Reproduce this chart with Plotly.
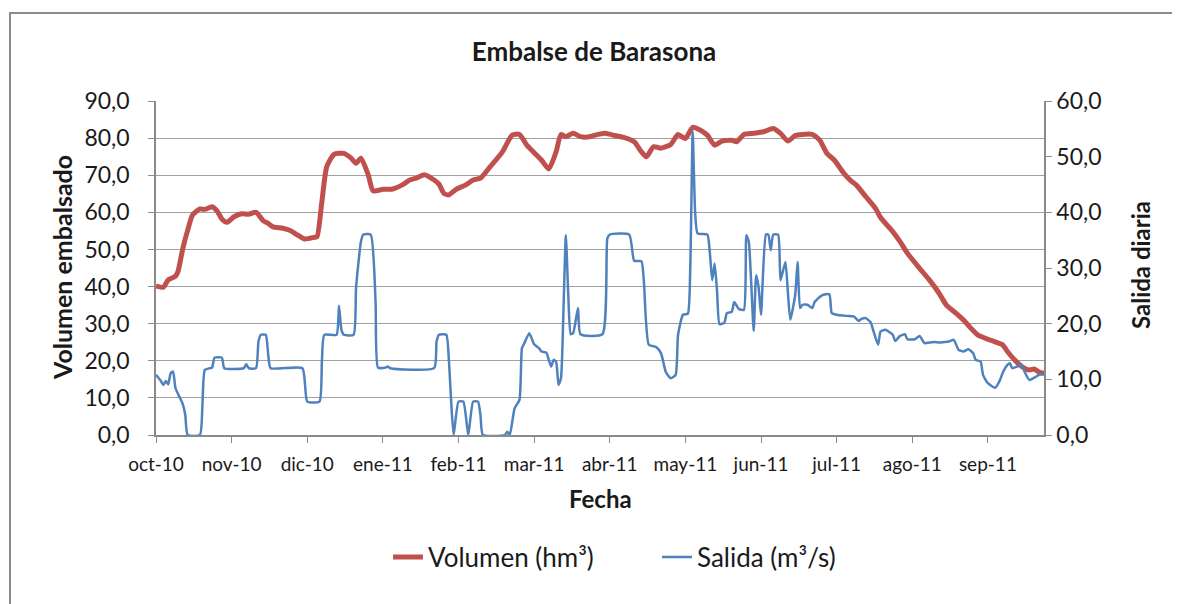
import plotly.graph_objects as go

# ---------------- data (daily category index from 1-oct-2010) ----------------
meses = ["oct-10", "nov-10", "dic-10", "ene-11", "feb-11", "mar-11",
         "abr-11", "may-11", "jun-11", "jul-11", "ago-11", "sep-11"]

dia_vol = [0, 3, 5, 8, 9, 11, 13, 15, 18, 20, 23, 25, 27, 29, 32, 35, 38, 41, 44, 46,
           48, 52, 55, 58, 61, 65, 66, 68, 70, 73, 77, 80, 82, 84, 87, 89, 93, 97, 101,
           104, 107, 110, 114, 116, 118, 120, 123, 127, 130, 133, 137, 142, 146, 149, 152,
           158, 161, 164, 166, 168, 171, 174, 177, 180, 184, 188, 192, 196, 199, 201, 204,
           207, 211, 214, 217, 220, 223, 226, 229, 232, 236, 238, 241, 245, 249, 253, 256,
           259, 262, 265, 269, 272, 275, 278, 282, 285, 287, 291, 295, 297, 302, 305, 308,
           313, 317, 321, 324, 328, 331, 334, 337, 341, 344, 347, 349, 352, 355, 358, 360,
           362, 364]
volumen = [40.2, 39.8, 41.8, 42.8, 44.0, 50.3, 55.2, 59.3, 60.9, 60.8, 61.5, 60.4, 58.2,
           57.3, 58.8, 59.6, 59.5, 60.0, 57.7, 57.0, 56.1, 55.7, 55.1, 53.9, 52.8, 53.3,
           53.4, 62.9, 72.3, 75.6, 75.9, 74.6, 73.2, 74.6, 70.1, 65.8, 66.2, 66.3, 67.4,
           68.7, 69.3, 70.1, 68.7, 67.6, 65.1, 64.7, 66.2, 67.4, 68.7, 69.2, 72.3, 76.3,
           80.8, 81.0, 78.1, 74.1, 71.7, 76.3, 81.0, 80.4, 81.3, 80.4, 80.3, 80.8, 81.3,
           80.7, 80.1, 79.0, 76.3, 75.0, 77.7, 77.3, 78.3, 81.0, 79.9, 82.9, 82.2, 80.8,
           78.1, 79.2, 79.4, 79.0, 81.0, 81.3, 81.7, 82.6, 81.3, 79.2, 80.7, 81.0, 81.0,
           79.5, 75.9, 74.1, 70.5, 68.4, 67.4, 64.2, 61.0, 58.6, 54.8, 52.1, 49.0, 44.9,
           41.8, 38.2, 35.0, 32.8, 31.0, 28.8, 26.9, 25.8, 25.1, 24.3, 22.5, 20.2, 18.4,
           17.5, 17.8, 16.9, 16.6]

dia_sal = [0, 2, 3, 4, 5, 6, 7, 8, 10, 11, 12, 13, 18, 19, 20, 22, 23, 24, 27, 28, 36, 37,
           38, 41, 42, 43, 45, 46, 47, 60, 62, 67, 68, 69, 74, 75, 76, 77, 81, 82, 84, 85,
           88, 90, 91, 94, 95, 96, 114, 115, 116, 119, 120, 121, 122, 124, 126, 128, 130,
           132, 133, 134, 143, 144, 145, 147, 149, 150, 151, 153, 155, 157, 158, 160, 161,
           162, 163, 164, 165, 166, 167, 168, 169, 170, 171, 173, 174, 183, 185, 186, 194,
           196, 199, 200, 202, 205, 207, 209, 211, 213, 214, 216, 218, 219, 220, 221, 222,
           226, 227, 228, 229, 230, 231, 233, 234, 236, 237, 239, 241, 242, 243, 245, 246,
           247, 248, 250, 251, 252, 253, 255, 256, 258, 259, 260, 262, 263, 264, 265, 267,
           269, 270, 273, 276, 277, 279, 283, 286, 288, 289, 291, 293, 294, 296, 297, 299,
           302, 303, 305, 307, 308, 311, 313, 315, 317, 319, 321, 323, 325, 327, 329, 331,
           333, 335, 336, 338, 339, 341, 344, 346, 347, 349, 350, 351, 353, 355, 356, 358,
           360, 362, 364]
salida = [10.8, 9.7, 9.0, 9.7, 9.1, 11.1, 11.4, 8.4, 6.5, 5.5, 3.6, 0.0, 0.0, 5.0, 11.7,
          12.0, 12.1, 13.9, 13.9, 12.0, 12.0, 12.7, 12.0, 12.0, 16.8, 18.0, 18.0, 14.4,
          12.0, 12.0, 6.0, 6.0, 13.2, 18.0, 18.0, 23.2, 18.9, 18.0, 18.0, 26.4, 34.7,
          36.0, 36.0, 24.0, 12.1, 12.1, 12.3, 12.0, 12.0, 16.8, 18.0, 18.0, 13.8, 6.0,
          0.0, 6.0, 6.0, 0.0, 6.0, 6.0, 3.6, 0.0, 0.0, 0.6, 0.0, 4.8, 6.3, 15.6, 16.5,
          18.3, 16.3, 15.6, 15.0, 14.8, 13.5, 12.3, 13.5, 13.2, 9.0, 10.2, 22.1, 35.9,
          25.1, 18.1, 18.3, 22.8, 18.1, 18.1, 35.3, 36.0, 36.0, 31.3, 31.2, 27.5, 16.2,
          15.8, 14.7, 11.3, 10.2, 10.8, 18.0, 21.6, 21.8, 30.0, 54.5, 40.0, 36.2, 36.0,
          32.9, 27.8, 30.8, 25.7, 19.9, 20.2, 21.9, 22.1, 23.9, 22.6, 22.5, 35.9, 34.7,
          18.7, 28.7, 26.6, 21.6, 36.0, 36.0, 33.2, 36.0, 36.0, 27.8, 31.1, 25.7, 20.7,
          25.1, 31.1, 22.8, 23.4, 23.4, 22.8, 23.9, 25.1, 25.3, 21.9, 21.6, 21.4, 21.3,
          20.5, 20.8, 21.0, 20.2, 18.8, 16.2, 18.6, 18.9, 18.0, 16.9, 17.8, 18.1, 17.2,
          17.2, 17.8, 16.5, 16.6, 16.7, 16.6, 16.7, 16.8, 17.1, 15.3, 15.0, 15.4, 14.7,
          13.5, 13.2, 10.8, 9.3, 8.5, 9.9, 11.1, 12.6, 12.9, 12.0, 12.3, 12.6, 11.4, 9.9,
          10.3, 10.8, 10.9]

# ---------------- figure ----------------
FONT = "Lato, 'Open Sans', sans-serif"
GRID = "#a0a0a0"
AXIS = "#8a8a8a"
OFF = 8                      # page body margin of the html page
W, H = 1180 - OFF, 604 - OFF
# plot area in screen pixels: x 156..1044, y 101..435
PL, PR, PT, PB = 156, 1044, 101, 435
L, T = PL - OFF, PT - OFF
R, B = W - (PR - OFF), H - (PB - OFF)
pw, ph = PR - PL, PB - PT


def px_x(x):
    return (x - PL) / pw


def px_y(y):
    return (PB - y) / ph


fig = go.Figure()
fig.add_trace(go.Scatter(
    x=dia_vol, y=volumen, mode="lines", name="Volumen (hm³)",
    line=dict(color="#C0504D", width=5, shape="spline", smoothing=0.6), yaxis="y"))
fig.add_trace(go.Scatter(
    x=dia_sal, y=salida, mode="lines", name="Salida (m³/s)",
    line=dict(color="#4F81BD", width=2.5, shape="spline", smoothing=0.5), yaxis="y2"))

fig.update_layout(
    width=W, height=H,
    margin=dict(l=L, r=R, t=T, b=B),
    paper_bgcolor="white", plot_bgcolor="white",
    separators=", ",
    font=dict(family=FONT, color="#1a1a1a"),
    title=dict(text="<b>Embalse de Barasona</b>", x=0.5, xanchor="center",
               y=1 - (52 - OFF) / H, yanchor="middle",
               font=dict(size=26, family=FONT, color="#1a1a1a")),
    xaxis=dict(range=[0, 364], tickmode="array",
               tickvals=[31 * i for i in range(len(meses))], ticktext=meses,
               showgrid=False, zeroline=False, showline=True, linecolor=AXIS,
               linewidth=1.5, ticks="outside", ticklen=6, tickcolor=AXIS,
               ticklabelstandoff=5, tickfont=dict(size=19, family=FONT)),
    yaxis=dict(range=[0, 90], dtick=10, tickformat=".1f",
               showgrid=True, gridcolor=GRID, gridwidth=1.3, zeroline=False,
               showline=True, linecolor=AXIS, linewidth=1.5,
               ticks="outside", ticklen=6, tickcolor=AXIS,
               ticklabelstandoff=14, tickfont=dict(size=23, family=FONT)),
    yaxis2=dict(range=[0, 60], dtick=10, tickformat=".1f", overlaying="y",
                side="right", showgrid=False, zeroline=False,
                showline=True, linecolor=AXIS, linewidth=1.5,
                ticks="outside", ticklen=6, tickcolor=AXIS,
                ticklabelstandoff=0, tickfont=dict(size=23, family=FONT)),
    legend=dict(orientation="h", x=px_x(388), y=px_y(557), xanchor="left",
                yanchor="middle", font=dict(size=26, family=FONT),
                entrywidth=224, entrywidthmode="pixels", bgcolor="rgba(0,0,0,0)"),
    showlegend=True,
)

# axis titles
fig.add_annotation(text="<b>Volumen embalsado</b>", xref="paper", yref="paper",
                   x=px_x(62), y=px_y(268), textangle=-90, showarrow=False,
                   font=dict(size=25, family=FONT, color="#1a1a1a"),
                   xanchor="center", yanchor="middle")
fig.add_annotation(text="<b>Salida diaria</b>", xref="paper", yref="paper",
                   x=px_x(1140), y=px_y(265), textangle=-90, showarrow=False,
                   font=dict(size=24, family=FONT, color="#1a1a1a"),
                   xanchor="center", yanchor="middle")
fig.add_annotation(text="<b>Fecha</b>", xref="paper", yref="paper",
                   x=0.5, y=px_y(498), showarrow=False,
                   font=dict(size=24, family=FONT, color="#1a1a1a"),
                   xanchor="center", yanchor="middle")

# chart-area frame
fig.add_shape(type="rect", xref="paper", yref="paper",
              x0=px_x(10), x1=px_x(1200), y0=px_y(640), y1=px_y(13),
              line=dict(color="#8c8c8c", width=2), layer="below")

fig.write_html("out.html")
